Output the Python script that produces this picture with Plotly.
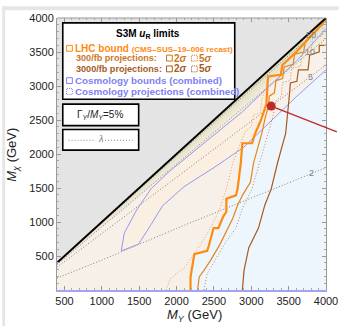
import plotly.graph_objects as go

# ---------------- data (M_Y, M_X in GeV) ----------------
diag_my = [400, 4000]
diag_mx = [400, 4000]

# LHC bound (CMS-SUS-19-006 recast)
lhc_my = [2187, 2187, 2238, 2410, 2431, 2496, 2560, 2624, 2667, 2667, 2795, 2817, 2860, 2881, 3010, 3052,
          3130, 3202, 3224, 3395, 3417, 3600, 3867, 4000]
lhc_mx = [0, 190, 528, 576, 647, 911, 911, 1079, 1151, 1343, 1391, 1487, 1871, 2158, 2158, 2302,
          2500, 2734, 3141, 3165, 3309, 3500, 3813, 3980]

# 300/fb 2 sigma (solid)
p300_2s_my = [2281, 2303, 2367, 2453, 2581, 2667, 2753, 2817, 2881, 2988, 3031, 3090, 3140, 3190, 3230,
              3240, 3310, 3330, 3420, 3440, 3560, 3580, 3700, 3720]
p300_2s_mx = [0, 191, 288, 432, 671, 863, 1055, 1247, 1391, 1583, 1871, 2100, 2302, 2550, 2700,
              2850, 2900, 3080, 3110, 3280, 3320, 3470, 3500, 3620]

# 300/fb 5 sigma (dotted)
p300_5s_my = [1860, 1917, 2110, 2324, 2453, 2581, 2667, 2753, 2850, 2920, 3000, 3030, 3120, 3140, 3180]
p300_5s_mx = [0, 168, 335, 671, 911, 1199, 1487, 1871, 2150, 2330, 2400, 2580, 2600, 2800, 2950]

# 3000/fb 2 sigma (solid)
p3000_2s_my = [2881, 2903, 2967, 3096, 3181, 3267, 3352, 3410, 3460, 3503, 3524, 3610, 3631, 3760, 3781,
               3910, 3910, 4000]
p3000_2s_mx = [0, 288, 623, 911, 1247, 1487, 1871, 2100, 2302, 2782, 3046, 3070, 3237, 3237, 3453,
               3501, 3597, 3597]

# 3000/fb 5 sigma (dotted)
p3000_5s_my = [2367, 2410, 2538, 2667, 2795, 2881, 3010, 3112, 3180, 3230, 3290, 3330, 3400, 3420, 3520,
               3540, 3660, 3680, 3800, 3820, 3950, 3960]
p3000_5s_mx = [0, 240, 480, 720, 911, 1199, 1487, 1871, 2100, 2302, 2550, 2780, 2850, 3050, 3080,
               3260, 3290, 3480, 3520, 3700, 3740, 3900]

# Cosmology bounds (combined): upper and lower branch of the allowed band
cos_up_my = [1260, 1300, 1467, 1660, 1900, 2300, 2881, 3202, 3600, 4000]
cos_up_mx = [575, 835, 1180, 1490, 1740, 2100, 2620, 2960, 3360, 3842]
cos_lo_my = [1260, 1493, 1660, 1814, 2100, 2500, 2900, 3266, 3600, 4000]
cos_lo_mx = [575, 676, 964, 1240, 1520, 1800, 2100, 2480, 2840, 3237]

# lambda contours (dotted)
lam_my = [400, 1000, 2000, 3000, 4000]
lam_2_mx = [175, 440, 905, 1355, 1800]
lam_5_mx = [335, 830, 1660, 2490, 3310]
lam_10_mx = [372, 930, 1860, 2780, 3700]
lam_50_mx = [395, 985, 1970, 2955, 3940]
lam_labels = ["2", "5", "10", "50"]
lam_label_my = [3806, 3793, 3780, 3793]
lam_label_mx = [1727, 3137, 3496, 3755]

# benchmark point and its pointer line (end lies outside the frame)
bench_my = [3266]
bench_mx = [2705]
pointer_end_my = 4166
pointer_end_mx = 2317

# width band shading ratios below the diagonal
band_ratios = [0.995, 0.985, 0.972, 0.958, 0.944, 0.928, 0.91]

xticks = [500, 1000, 1500, 2000, 2500, 3000, 3500, 4000]
yticks = [500, 1000, 1500, 2000, 2500, 3000, 3500, 4000]

# ---------------- layout helpers ----------------
W, H = 350, 327
L, R, T, B = 57, 13, 12, 37
PW, PH = W - L - R, H - T - B
FONT = "Liberation Sans, Arial, sans-serif"


def xp(px):
    return (px - L) / PW


def yp(py):
    return (H - B - py) / PH


C_LHC = "#ff8a12"
C_300 = "#e8841a"
C_300T = "#c8781c"
C_3000 = "#a65a1e"
C_3000D = "#c08a58"
C_COS = "#9898f0"
C_COST = "#7f7ff5"
DOT = "1px,2px"

fig = go.Figure()


def poly(x, y, color):
    fig.add_trace(go.Scatter(x=x, y=y, fill="toself", fillcolor=color, mode="lines",
                             line=dict(width=0), hoverinfo="skip", showlegend=False))


def line(x, y, color, width=1.0, dash="solid"):
    fig.add_trace(go.Scatter(x=x, y=y, mode="lines", line=dict(color=color, width=width, dash=dash),
                             hoverinfo="skip", showlegend=False))


# gray region above the diagonal
poly([diag_my[0], diag_my[1], diag_my[0]], [diag_mx[0], diag_mx[1], diag_mx[1]], "#e4e4e4")
# light blue region right of the LHC bound
poly(lhc_my + [diag_my[1]], lhc_mx + [0], "#eef6fd")
# cosmology allowed band
poly(cos_up_my + cos_lo_my[::-1], cos_up_mx + cos_lo_mx[::-1], "rgba(255,238,220,0.6)")
# width shading along the diagonal
for r in band_ratios:
    poly([diag_my[0], diag_my[1], diag_my[1], diag_my[0]],
         [diag_mx[0], diag_mx[1], diag_mx[1] * r, diag_mx[0] * r], "rgba(205,195,130,0.07)")

# lambda contours
for mx in (lam_2_mx, lam_5_mx, lam_10_mx, lam_50_mx):
    line(lam_my, mx, "#808080", 1.0, DOT)

# cosmology lines
line(cos_up_my, cos_up_mx, C_COS, 1.0)
line(cos_lo_my, cos_lo_mx, C_COS, 1.0)

# collider lines
line(p300_5s_my, p300_5s_mx, "#eaa060", 1.0, DOT)
line(p3000_5s_my, p3000_5s_mx, C_3000D, 1.0, DOT)
line(p300_2s_my, p300_2s_mx, C_300, 1.2)
line(p3000_2s_my, p3000_2s_mx, C_3000, 1.2)
line(lhc_my, lhc_mx, C_LHC, 2.2)

# diagonal
line(diag_my, diag_mx, "#000000", 2.0)

ann = []
# pointer line from the benchmark point
ann.append(dict(x=bench_my[0], y=bench_mx[0], xref="x", yref="y", text="", showarrow=True,
                axref="x", ayref="y", ax=pointer_end_my, ay=pointer_end_mx,
                arrowhead=0, arrowwidth=1.3, arrowcolor="#c02a26", standoff=0, startstandoff=0))

# benchmark point
fig.add_trace(go.Scatter(x=bench_my, y=bench_mx, mode="markers",
                         marker=dict(size=9, color="#c02a26"), hoverinfo="skip", showlegend=False))
# dummy for top axis
fig.add_trace(go.Scatter(x=diag_my, y=diag_mx, xaxis="x2", mode="lines", line=dict(width=0),
                         hoverinfo="skip", showlegend=False))

for t, x, y in zip(lam_labels, lam_label_my, lam_label_mx):
    ann.append(dict(x=x, y=y, xref="x", yref="y", text=t, showarrow=False,
                    font=dict(size=9, color="#808080", family=FONT)))

shapes = []
# page grey border strips
shapes.append(dict(type="rect", xref="paper", yref="paper", x0=xp(0), x1=xp(W), y0=yp(4), y1=yp(0),
                   fillcolor="#e6e6e6", line=dict(width=0), layer="below"))
shapes.append(dict(type="rect", xref="paper", yref="paper", x0=xp(0), x1=xp(3), y0=yp(H), y1=yp(0),
                   fillcolor="#e6e6e6", line=dict(width=0), layer="below"))
# top frame line
shapes.append(dict(type="line", xref="paper", yref="paper", x0=0, x1=1, y0=1, y1=1,
                   line=dict(color="#999999", width=1)))

# legend boxes
for (x0, y0, x1, y1) in [(63, 17, 242, 95), (63, 100, 142, 122), (63, 126, 142, 147)]:
    shapes.append(dict(type="rect", xref="paper", yref="paper", x0=xp(x0), x1=xp(x1), y0=yp(y1), y1=yp(y0),
                       fillcolor="white", line=dict(color="black", width=1.6), layer="above"))


def sq(x, y, color, dash="solid"):
    shapes.append(dict(type="rect", xref="paper", yref="paper", x0=xp(x), x1=xp(x + 6), y0=yp(y + 3),
                       y1=yp(y - 3), line=dict(color=color, width=1, dash=dash), layer="above"))


def txt(s, x, y, size, color, xa="left", angle=0):
    ann.append(dict(x=xp(x), y=yp(y), xref="paper", yref="paper", text=s, showarrow=False,
                    xanchor=xa, yanchor="middle", textangle=angle,
                    font=dict(size=size, color=color, family=FONT)))


txt("<b>S3M <i>u</i><sub>R</sub> limits</b>", 152, 28, 10, "black", "center")
sq(67, 43, C_LHC)
txt("<b>LHC bound <span style='font-size:8px'>(CMS–SUS–19–006 recast)</span></b>", 74, 43, 10, C_LHC)
txt("<b>300/fb projections:</b>", 75, 53, 9.1, C_300T)
sq(171, 53, C_300T)
txt("<b>2<i>σ</i></b>", 177, 53, 10, C_300T)
sq(197, 53, C_300T, "1px,1px")
txt("<b>5<i>σ</i></b>", 203, 53, 10, C_300T)
txt("<b>3000/fb projections:</b>", 75, 64, 9.1, C_3000)
sq(171, 64, C_3000)
txt("<b>2<i>σ</i></b>", 177, 64, 10, C_3000)
sq(197, 64, C_3000, "1px,1px")
txt("<b>5<i>σ</i></b>", 203, 64, 10, C_3000)
sq(67, 76, C_COST)
txt("<b>Cosmology bounds (combined)</b>", 74, 76, 9.8, C_COST)
sq(67, 87, C_COST, "1px,1px")
txt("<b>Cosmology projections (combined)</b>", 74, 87, 9.8, C_COST)

txt("Γ<sub><i>Y</i></sub>/<i>M</i><sub><i>Y</i></sub>=5%", 102, 111, 10, "#222222", "center")
shapes.append(dict(type="line", xref="paper", yref="paper", x0=xp(69), x1=xp(97), y0=yp(137), y1=yp(137),
                   line=dict(color="#8a8a8a", width=1, dash=DOT), layer="above"))
shapes.append(dict(type="line", xref="paper", yref="paper", x0=xp(107), x1=xp(136), y0=yp(137), y1=yp(137),
                   line=dict(color="#8a8a8a", width=1, dash=DOT), layer="above"))
txt("<i>λ</i>", 102, 136, 9, "#808080", "center")

# axis titles
txt("<i>M</i><sub><i>Y</i></sub> (GeV)", 200, 316, 13, "#222222", "center")
ann.append(dict(x=xp(11), y=yp(152), xref="paper", yref="paper",
                text="<i>M</i><sub><i>χ</i></sub> (GeV)", showarrow=False, textangle=-90,
                xanchor="center", yanchor="middle", font=dict(size=13, color="#222222", family=FONT)))

axis_common = dict(showgrid=False, zeroline=False, ticks="inside", ticklen=4, tickcolor="#999999",
                   tickwidth=1, tickfont=dict(size=11, color="#222222", family=FONT))
minor = dict(ticks="inside", ticklen=2, dtick=100, tick0=0, tickcolor="#aaaaaa", tickwidth=1)

fig.update_layout(
    width=W, height=H, autosize=False,
    margin=dict(l=L, r=R, t=T, b=B, pad=0),
    paper_bgcolor="white", plot_bgcolor="#f6f0e8",
    showlegend=False,
    xaxis=dict(range=[400, 4000], tickvals=xticks, ticktext=[str(v) for v in xticks],
               showline=True, linecolor="#a4a4f0", linewidth=1.5, minor=minor, **axis_common),
    xaxis2=dict(range=[400, 4000], overlaying="x", side="top", showticklabels=False,
                tickvals=xticks, showline=False, minor=minor, **axis_common),
    yaxis=dict(range=[0, 4000], tickvals=yticks, ticktext=[str(v) for v in yticks],
               showline=True, linecolor="#999999", linewidth=1, mirror="ticks", minor=minor, **axis_common),
    shapes=shapes, annotations=ann,
)

fig.write_html("out.html", config={"displayModeBar": False, "staticPlot": True},
               post_script="document.body.style.margin='0';document.body.style.overflow='hidden';")
